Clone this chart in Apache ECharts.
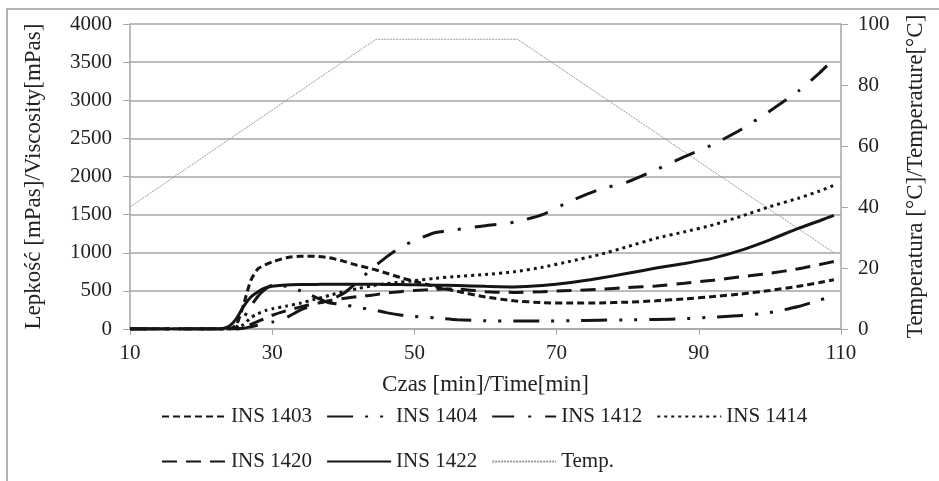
<!DOCTYPE html>
<html>
<head>
<meta charset="utf-8">
<script src="https://cdn.jsdelivr.net/npm/echarts@6/dist/echarts.min.js"></script>
<style>
  html, body { margin: 0; padding: 0; background: #fff; }
  #chart { width: 939px; height: 481px; }
</style>
</head>
<body>
<div id="chart"></div>
<script>
// czas [min] - wspolna siatka dla krzywych lepkosci
const times = [10, 22, 23, 24, 25, 26, 27, 28, 29, 30, 32, 34, 36, 38, 40, 42, 44, 46, 48, 50,
  53, 56, 60, 64, 68, 72, 76, 80, 84, 88, 92, 96, 100, 104, 107, 109]

const ins1403 = [0, 0, 0, 0, 60, 330, 640, 790, 840, 880, 935, 955, 955, 935, 890, 835, 790, 735, 675, 625,
  555, 495, 420, 370, 345, 340, 342, 352, 370, 395, 425, 460, 505, 560, 610, 645]
const ins1404 = [0, 0, 0, 0, 30, 150, 300, 430, 520, 575, 560, 500, 420, 345, 320, 285, 255, 215, 185, 165,
  145, 122, 108, 105, 105, 108, 115, 120, 125, 135, 155, 178, 215, 295, 380, 430]
const ins1412 = [0, 0, 0, 0, 0, 10, 30, 50, 70, 90, 150, 250, 320, 378, 465, 620, 790, 940, 1070, 1160,
  1265, 1305, 1355, 1400, 1500, 1680, 1830, 1930, 2090, 2260, 2420, 2620, 2860, 3120, 3360, 3545]
const ins1414 = [0, 0, 0, 0, 10, 60, 150, 200, 240, 265, 300, 340, 390, 440, 490, 530, 565, 595, 615, 635,
  665, 690, 715, 750, 810, 890, 975, 1080, 1190, 1275, 1365, 1480, 1605, 1715, 1810, 1885]
const ins1420 = [0, 0, 0, 0, 0, 20, 60, 100, 140, 180, 240, 290, 330, 370, 400, 425, 444, 470, 490, 505,
  520, 525, 490, 480, 490, 505, 520, 545, 565, 600, 640, 685, 730, 790, 845, 885]
const ins1422 = [0, 0, 5, 40, 140, 300, 420, 490, 540, 560, 578, 583, 585, 587, 587, 587, 586, 585, 583, 580,
  575, 570, 560, 552, 570, 609, 665, 730, 800, 860, 930, 1035, 1170, 1320, 1420, 1490]

const tempTimes = [10, 44.6, 64.5, 109]
const tempValues = [40, 95, 95, 25]

const chart = echarts.init(document.getElementById('chart'))

const font = 'Liberation Serif'
const black = '#151515'
const gray = '#a6a6a6'
const labelStyle = { fontFamily: font, fontSize: 21, color: '#222' }
const nameStyle = { fontFamily: font, fontSize: 23, color: '#222' }

function viscSeries(name, values, dash) {
  return {
    name: name,
    type: 'line',
    yAxisIndex: 0,
    data: times.map((t, i) => [t, values[i]]),
    symbol: 'none',
    smooth: 0.2,
    lineStyle: { color: black, width: 3, type: dash, cap: 'butt' },
    itemStyle: { color: black },
    z: 3
  }
}

const legendBase = {
  left: 161,
  padding: 0,
  itemWidth: 64, itemHeight: 14, itemGap: 14,
  itemStyle: { opacity: 0 },
  textStyle: { fontFamily: font, fontSize: 21, color: '#222' }
}

const option = {
  backgroundColor: '#fff',
  animation: false,
  graphic: [{
    type: 'rect',
    shape: { x: 7, y: 9, width: 1000, height: 1000 },
    style: { fill: 'none', stroke: '#9a9a9a', lineWidth: 1.5 },
    silent: true
  }],
  legend: [
    Object.assign({}, legendBase, { top: 406, data: ['INS 1403', 'INS 1404', 'INS 1412', 'INS 1414'] }),
    Object.assign({}, legendBase, { top: 451, data: ['INS 1420', 'INS 1422', 'Temp.'] })
  ],
  grid: { left: 130, right: 98, top: 24, bottom: 152 },
  xAxis: {
    type: 'value',
    min: 10, max: 110, interval: 20,
    name: 'Czas [min]/Time[min]',
    nameLocation: 'middle',
    nameGap: 44,
    nameTextStyle: nameStyle,
    axisLine: { lineStyle: { color: gray, width: 1.5 } },
    axisTick: { show: true, length: 6, lineStyle: { color: gray } },
    axisLabel: Object.assign({ margin: 14 }, labelStyle),
    splitLine: { show: false }
  },
  yAxis: [
    {
      type: 'value',
      min: 0, max: 4000, interval: 500,
      name: 'Lepkość [mPas]/Viscosity[mPas]',
      nameLocation: 'middle',
      nameRotate: 90,
      nameGap: 85,
      nameTextStyle: nameStyle,
      axisLine: { show: true, lineStyle: { color: gray, width: 1.5 } },
      axisTick: { show: true, length: 7, lineStyle: { color: gray } },
      axisLabel: Object.assign({ margin: 18, formatter: v => String(v) }, labelStyle),
      splitLine: { lineStyle: { color: gray, width: 1.5 } }
    },
    {
      type: 'value',
      min: 0, max: 100, interval: 20,
      name: 'Temperatura [°C]/Temperature[°C]',
      nameLocation: 'middle',
      nameRotate: 90,
      nameGap: 63,
      nameTextStyle: nameStyle,
      axisLine: { show: true, lineStyle: { color: gray, width: 1.5 } },
      axisTick: { show: true, length: 7, lineStyle: { color: gray } },
      axisLabel: Object.assign({ margin: 17 }, labelStyle),
      splitLine: { show: false }
    }
  ],
  series: [
    viscSeries('INS 1403', ins1403, [7, 4]),
    viscSeries('INS 1404', ins1404, [26, 12, 3, 12, 3, 12]),
    viscSeries('INS 1412', ins1412, [22, 14, 3, 14]),
    viscSeries('INS 1414', ins1414, [3, 4]),
    viscSeries('INS 1420', ins1420, [15, 9]),
    viscSeries('INS 1422', ins1422, 'solid'),
    {
      name: 'Temp.',
      type: 'line',
      yAxisIndex: 1,
      data: tempTimes.map((t, i) => [t, tempValues[i]]),
      symbol: 'none',
      lineStyle: { color: '#9a9a9a', width: 1, type: [2, 1] },
      itemStyle: { color: '#9a9a9a' },
      z: 2
    }
  ]
}

chart.setOption(option)
</script>
</body>
</html>
